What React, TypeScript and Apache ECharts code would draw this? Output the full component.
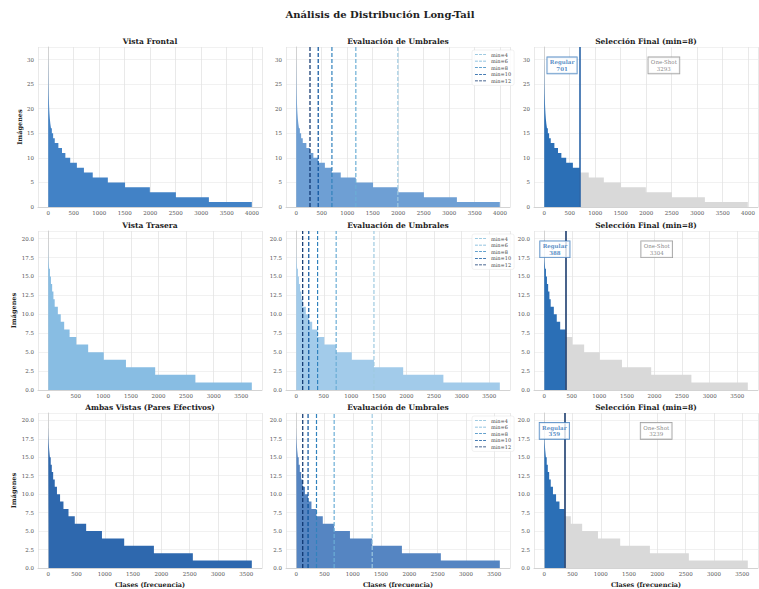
import React, { useEffect, useRef } from "react";
import * as echarts from "echarts";

const FONT = "'DejaVu Serif', serif";

const mainTitle = "Análisis de Distribución Long-Tail";
const rowTitles = ["Vista Frontal", "Vista Trasera", "Ambas Vistas (Pares Efectivos)"];
const midTitle = "Evaluación de Umbrales";
const finalTitle = "Selección Final (min=8)";
const yLabel = "Imágenes";
const xLabel = "Clases (frecuencia)";

const thresholdNames = ["min=4", "min=6", "min=8", "min=10", "min=12"];
const thresholdValues = [4, 6, 8, 10, 12];
const selectedMin = 8;

// images per class (descending levels) and the class rank where each level ends
const frontalLevels = [31, 30, 29, 28, 27, 26, 25, 24, 23, 22, 21, 20, 19, 18, 17, 16, 15, 14, 13, 12, 11, 10, 9, 8, 7, 6, 5, 4, 3, 2, 1];
const frontalEnds = [1, 2, 3, 4, 5, 6, 8, 10, 13, 16, 20, 25, 32, 42, 55, 72, 97, 129, 200, 271, 337, 432, 563, 701, 874, 1170, 1508, 1994, 2505, 3152, 3994];

const traseraLevels = [20, 19, 18, 17, 16, 15, 14, 13, 12, 11, 10, 9, 8, 7, 6, 5, 4, 3, 2, 1];
const traseraEnds = [1, 3, 8, 18, 32, 50, 72, 95, 118, 175, 228, 290, 388, 510, 725, 1008, 1410, 1940, 2669, 3692];

const ambasLevels = [20, 19, 18, 17, 16, 15, 14, 13, 12, 11, 10, 9, 8, 7, 6, 5, 4, 3, 2, 1];
const ambasEnds = [1, 4, 9, 18, 30, 45, 64, 88, 116, 155, 210, 270, 359, 470, 671, 950, 1343, 1868, 2556, 3598];

const views = [
  { levels: frontalLevels, ends: frontalEnds },
  { levels: traseraLevels, ends: traseraEnds },
  { levels: ambasLevels, ends: ambasEnds },
];

const baseColors = ["#4282c6", "#88bde3", "#2e68ae"];
const midColors = ["#6e9fd4", "#a2cbea", "#5585c2"];
const thresholdColors = ["#9ecae1", "#6baed6", "#3182bd", "#08519c", "#08306b"];
const regularColor = "#2b6fb6";
const oneShotColor = "#d9d9d9";
const cutLineColors = ["#2a64a8", "#1c3d6e", "#1c3d6e"];

const colLeft = [38, 286, 534];
const colW = 224;
const rowTop = [47, 231, 413];
const rowH = [160, 159, 160];

const DASH_ICON = "path://M0,0h5v1.4h-5z M7,0h5v1.4h-5z M14,0h5v1.4h-5z";

function stepPoints(levels: number[], ends: number[], from: number, to: number) {
  const pts: number[][] = [];
  for (let i = from; i < to; i++) {
    const start = i === 0 ? 0 : ends[i - 1];
    pts.push([start, levels[i]]);
  }
  pts.push([ends[to - 1], levels[to - 1]]);
  return pts;
}

export default function App() {
  const ref = useRef<HTMLDivElement>(null);
  useEffect(() => {
    if (!ref.current) return;
    const chart = echarts.init(ref.current, undefined, { renderer: "svg" });

    const titles: any[] = [
      {
        text: mainTitle,
        left: 380,
        top: 9,
        textAlign: "center",
        padding: 0,
        textStyle: { fontFamily: FONT, fontSize: 10, fontWeight: "bold", color: "#222" },
      },
    ];
    const grids: any[] = [];
    const xAxes: any[] = [];
    const yAxes: any[] = [];
    const series: any[] = [];
    const legends: any[] = [];

    views.forEach((v, r) => {
      const N = v.ends[v.ends.length - 1];
      const top = v.levels[0];
      const yMax = top * 1.05;
      const R = v.ends[v.levels.indexOf(selectedMin)];
      const colTitles = [rowTitles[r], midTitle, finalTitle];
      for (let c = 0; c < 3; c++) {
        const idx = r * 3 + c;
        grids.push({ left: colLeft[c], top: rowTop[r], width: colW, height: rowH[r] });
        titles.push({
          text: colTitles[c],
          left: colLeft[c] + colW / 2,
          top: rowTop[r] - 10,
          textAlign: "center",
          padding: 0,
          textStyle: { fontFamily: FONT, fontSize: 7.5, fontWeight: "bold", color: "#222" },
        });
        xAxes.push({
          type: "value",
          gridIndex: idx,
          min: -0.05 * N,
          max: 1.05 * N,
          splitNumber: 8,
          name: r === 2 ? xLabel : "",
          nameLocation: "middle",
          nameGap: 13,
          nameTextStyle: { fontFamily: FONT, fontSize: 6.5, fontWeight: "bold", color: "#222" },
          axisLine: { show: true, lineStyle: { color: "#cccccc", width: 0.8 } },
          axisTick: { show: false },
          axisLabel: {
            showMinLabel: false,
            showMaxLabel: false,
            fontFamily: FONT,
            fontSize: 5.5,
            color: "#555",
            margin: 3,
            formatter: (val: number) => String(Math.round(val)),
          },
          splitLine: { show: true, lineStyle: { color: "#e3e3e3", width: 0.8 } },
        });
        yAxes.push({
          type: "value",
          gridIndex: idx,
          min: 0,
          max: yMax,
          interval: r === 0 ? 5 : 2.5,
          name: c === 0 ? yLabel : "",
          nameLocation: "middle",
          nameRotate: 90,
          nameGap: 15,
          nameTextStyle: { fontFamily: FONT, fontSize: 6.5, fontWeight: "bold", color: "#222" },
          axisLine: { show: true, lineStyle: { color: "#cccccc", width: 0.8 } },
          axisTick: { show: false },
          axisLabel: {
            showMaxLabel: false,
            fontFamily: FONT,
            fontSize: 5.5,
            color: "#555",
            margin: 4,
            formatter: (val: number) => (r === 0 ? String(val) : val.toFixed(1)),
          },
          splitLine: { show: true, lineStyle: { color: "#eeeeee", width: 0.8 } },
        });
      }

      const all = stepPoints(v.levels, v.ends, 0, v.levels.length);
      const areaSeries = (idx: number, color: string, data: number[][], z = 2) => ({
        type: "line",
        xAxisIndex: idx,
        yAxisIndex: idx,
        data,
        step: "end",
        symbol: "none",
        silent: true,
        z,
        lineStyle: { width: 0, color },
        itemStyle: { color },
        areaStyle: { color, opacity: 1 },
      });

      // column 1
      series.push(areaSeries(r * 3, baseColors[r], all));
      // column 2
      series.push(areaSeries(r * 3 + 1, midColors[r], all));
      thresholdValues.forEach((m, i) => {
        const cx = v.ends[v.levels.indexOf(m)];
        series.push({
          type: "line",
          name: thresholdNames[i],
          xAxisIndex: r * 3 + 1,
          yAxisIndex: r * 3 + 1,
          data: [
            [cx, 0],
            [cx, yMax],
          ],
          symbol: "none",
          z: 5,
          color: thresholdColors[i],
          lineStyle: { color: thresholdColors[i], width: 1.2, type: [4, 2] },
        });
      });
      legends.push({
        data: thresholdNames.map((n) => ({ name: n, icon: DASH_ICON })),
        orient: "vertical",
        left: 472,
        top: rowTop[r] + 3,
        itemWidth: 11,
        itemHeight: 5,
        itemGap: 1.6,
        padding: [2, 3],
        backgroundColor: "rgba(255,255,255,0.85)",
        borderColor: "#e2e2e2",
        borderWidth: 0.5,
        borderRadius: 2,
        selectedMode: false,
        textStyle: { fontFamily: FONT, fontSize: 5, color: "#444" },
      });

      // column 3
      const ri = v.levels.indexOf(selectedMin) + 1;
      const regular = stepPoints(v.levels, v.ends, 0, ri);
      const oneShot = stepPoints(v.levels, v.ends, ri, v.levels.length);
      series.push(areaSeries(r * 3 + 2, oneShotColor, oneShot));
      const reg: any = areaSeries(r * 3 + 2, regularColor, regular, 3);
      reg.markLine = {
        silent: true,
        symbol: "none",
        label: { show: false },
        lineStyle: { color: cutLineColors[r], width: 1.6, type: "solid" },
        data: [{ xAxis: R }],
      };
      series.push(reg);
      const annY = yMax * 0.885;
      const boxLabel = (text: string, color: string, border: string, bold: boolean) => ({
        show: true,
        position: "inside",
        formatter: text,
        backgroundColor: "#ffffff",
        borderColor: border,
        borderWidth: 0.8,
        padding: [1.5, 2.5],
        fontFamily: FONT,
        fontSize: 5.5,
        lineHeight: 6.5,
        color,
        fontWeight: bold ? "bold" : "normal",
        align: "center",
        verticalAlign: "middle",
      });
      series.push({
        type: "scatter",
        xAxisIndex: r * 3 + 2,
        yAxisIndex: r * 3 + 2,
        symbolSize: 2,
        itemStyle: { color: "rgba(0,0,0,0)" },
        z: 10,
        silent: true,
        data: [[R / 2, annY]],
        label: boxLabel(`Regular\n${R}`, regularColor, regularColor, true),
      });
      series.push({
        type: "scatter",
        xAxisIndex: r * 3 + 2,
        yAxisIndex: r * 3 + 2,
        symbolSize: 2,
        itemStyle: { color: "rgba(0,0,0,0)" },
        z: 10,
        silent: true,
        data: [[R + (N - R) / 2, annY]],
        label: boxLabel(`One-Shot\n${N - R}`, "#666666", "#8a8a8a", false),
      });
    });

    chart.setOption({
      animation: false,
      backgroundColor: "#ffffff",
      title: titles,
      legend: legends,
      grid: grids,
      xAxis: xAxes,
      yAxis: yAxes,
      series,
    });
    return () => chart.dispose();
  }, []);

  return (
    <div
      ref={ref}
      style={{ position: "fixed", left: 0, top: 0, width: 759, height: 589, background: "#fff" }}
    />
  );
}
